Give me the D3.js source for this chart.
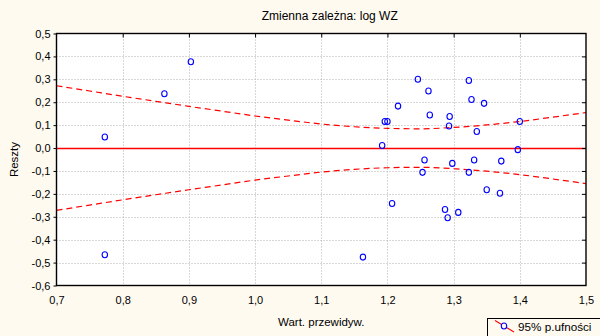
<!DOCTYPE html>
<html><head><meta charset="utf-8">
<script src="https://cdn.jsdelivr.net/npm/d3@7"></script>
<style>
html,body{margin:0;padding:0;background:#fffaf0;}
svg{display:block;font-family:"Liberation Sans",Arial,sans-serif;}
</style></head>
<body>
<svg id="c" width="600" height="336"></svg>
<script>
// Data
const predicted = [0.773,0.773,0.863,0.903,1.246,1.323,1.262,1.216,1.327,1.346,1.264,1.294,1.196,1.200,1.293,1.335,1.400,1.192,1.397,
  1.256,1.298,1.331,1.372,1.253,1.323,1.350,1.370,1.207,1.287,1.291,1.307,1.163];
const residuals = [0.048,-0.466,0.237,0.377,0.300,0.295,0.249,0.183,0.212,0.195,0.144,0.138,0.116,0.116,0.096,0.072,0.116,0.011,-0.007,
  -0.052,-0.067,-0.052,-0.057,-0.106,-0.106,-0.182,-0.197,-0.242,-0.268,-0.304,-0.281,-0.476];
const bandX = [0.70,0.75,0.80,0.85,0.90,0.95,1.00,1.05,1.10,1.15,1.20,1.25,1.30,1.35,1.40,1.45,1.50];
const bandUpper = [0.272,0.249,0.226,0.204,0.182,0.161,0.140,0.122,0.105,0.093,0.086,0.084,0.090,0.101,0.116,0.135,0.155];
const bandLower = [-0.272,-0.249,-0.226,-0.204,-0.182,-0.161,-0.140,-0.122,-0.105,-0.093,-0.086,-0.084,-0.090,-0.101,-0.116,-0.135,-0.155];
const xTicks = [0.7,0.8,0.9,1.0,1.1,1.2,1.3,1.4,1.5];
const yTicks = [0.5,0.4,0.3,0.2,0.1,0.0,-0.1,-0.2,-0.3,-0.4,-0.5,-0.6];
const title = "Zmienna zależna: log WZ";
const xTitle = "Wart. przewidyw.";
const yTitle = "Reszty";
const legendLabel = "95% p.ufności";

const svg = d3.select("#c");
const L = 56.5, R = 586, T = 33.5, B = 285.5;
const x = d3.scaleLinear().domain([0.7,1.5]).range([L,R]);
const y = d3.scaleLinear().domain([-0.6,0.5]).range([B,T]);
const fmt = d => d.toFixed(1).replace(".", ",");

svg.append("rect").attr("x",L).attr("y",T).attr("width",R-L).attr("height",B-T).attr("fill","#fff");

// grid
const g = svg.append("g");
g.selectAll("line.gx").data(xTicks.slice(1,-1)).join("line")
  .attr("x1",d=>Math.round(x(d))+0.5).attr("x2",d=>Math.round(x(d))+0.5).attr("y1",T).attr("y2",B)
  .attr("stroke","#b0b0b0").attr("stroke-dasharray","1,2");
g.selectAll("line.gy").data(yTicks.slice(1,-1)).join("line")
  .attr("y1",d=>Math.round(y(d))+0.5).attr("y2",d=>Math.round(y(d))+0.5).attr("x1",L).attr("x2",R)
  .attr("stroke","#b0b0b0").attr("stroke-dasharray","1,2");

// zero line
svg.append("line").attr("x1",L).attr("x2",R).attr("y1",Math.round(y(0))+0.5).attr("y2",Math.round(y(0))+0.5)
  .attr("stroke","#ff0000").attr("stroke-width",1.3);

// bands
const line = d3.line().x(d=>x(d[0])).y(d=>y(d[1])).curve(d3.curveMonotoneX);
[bandUpper,bandLower].forEach(arr=>{
  svg.append("path").attr("d",line(bandX.map((v,i)=>[v,arr[i]])))
    .attr("fill","none").attr("stroke","#ff0000").attr("stroke-width",1.2).attr("stroke-dasharray","6,4");
});

// points
svg.selectAll("ellipse.pt").data(predicted.map((v,i)=>[v,residuals[i]])).join("ellipse")
  .attr("cx",d=>x(d[0])).attr("cy",d=>y(d[1])).attr("rx",2.7).attr("ry",3)
  .attr("fill","none").attr("stroke","#0000ff").attr("stroke-width",1.1);

// axes
const ax = svg.append("g").attr("transform",`translate(0,${B})`).call(d3.axisBottom(x).tickValues(xTicks).tickFormat(fmt).tickSize(0).tickPadding(11));
const ay = svg.append("g").attr("transform",`translate(${L},0)`).call(d3.axisLeft(y).tickValues(yTicks).tickFormat(fmt).tickSize(3).tickPadding(3));
const at = svg.append("g").attr("transform",`translate(0,${T})`).call(d3.axisBottom(x).tickValues(xTicks.slice(1,-1)).tickFormat("").tickSize(4));
const ar = svg.append("g").attr("transform",`translate(${R},0)`).call(d3.axisLeft(y).tickValues(yTicks.slice(1,-1)).tickFormat("").tickSize(4));
[ax,ay,at,ar].forEach(a=>{
  a.select(".domain").remove();
  a.selectAll("line").attr("stroke","#000");
  a.selectAll("text").attr("fill","#000").style("font-size","11px").style("font-family","'Liberation Sans',Arial,sans-serif");
});
svg.append("rect").attr("x",L).attr("y",T).attr("width",R-L).attr("height",B-T)
  .attr("fill","none").attr("stroke","#000").attr("stroke-width",1.4);

// titles
svg.append("text").attr("x",261.7).attr("y",20.3).attr("text-anchor","start").style("font-size","12px").text(title);
svg.append("text").attr("x",(L+R)/2).attr("y",326).attr("text-anchor","middle").style("font-size","11.5px").text(xTitle);
svg.append("text").attr("transform",`translate(18,${(T+B)/2}) rotate(-90)`).attr("text-anchor","middle").style("font-size","11.5px").text(yTitle);

// legend
const lg = svg.append("g");
lg.append("rect").attr("x",487.5).attr("y",318.5).attr("width",120).attr("height",20).attr("fill","#fffaf0").attr("stroke","#000");
lg.append("line").attr("x1",495).attr("y1",320.5).attr("x2",514).attr("y2",332).attr("stroke","#ff0000").attr("stroke-width",1.1);
lg.append("ellipse").attr("cx",504).attr("cy",326).attr("rx",2.7).attr("ry",3).attr("fill","#fffaf0").attr("stroke","#0000ff").attr("stroke-width",1.1);
lg.append("text").attr("x",518).attr("y",331).style("font-size","11.7px").text(legendLabel);
</script>
</body></html>
